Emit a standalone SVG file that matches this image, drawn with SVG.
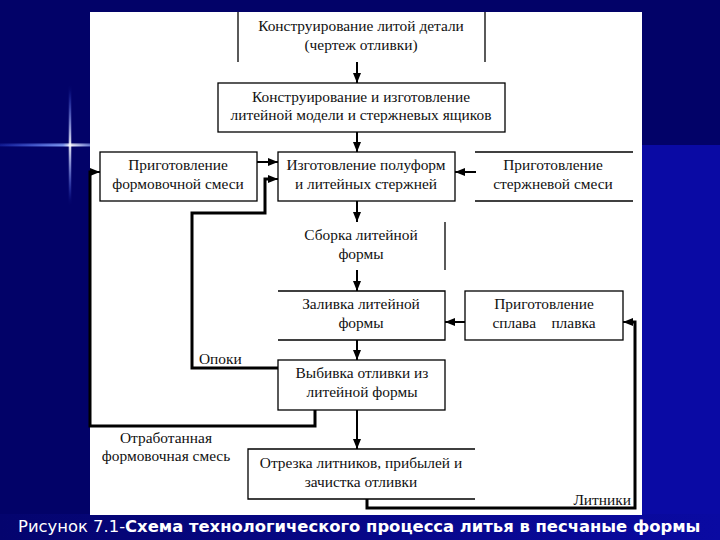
<svg xmlns="http://www.w3.org/2000/svg" width="720" height="540" viewBox="0 0 720 540">
<defs>
<style>
.box{fill:none;stroke:#000;stroke-width:1.3}
.t{font-family:"Liberation Serif","Times New Roman",serif;font-size:15.4px;fill:#111;text-anchor:middle}
.c{fill:none;stroke:#000;stroke-width:2}
.ct{fill:none;stroke:#000;stroke-width:3}
.cap{font-family:"DejaVu Sans",Verdana,sans-serif;font-size:16.4px;fill:#fff}
</style>
<marker id="ah" markerUnits="userSpaceOnUse" markerWidth="10" markerHeight="10" viewBox="0 0 10 10" refX="10" refY="5" orient="auto">
<path d="M0,1 L10,5 L0,9 Z" fill="#000"/>
</marker>
<linearGradient id="bot" x1="0" y1="0" x2="1" y2="0">
<stop offset="0" stop-color="#04046e"/>
<stop offset="1" stop-color="#0a0aa2"/>
</linearGradient>
<linearGradient id="hl" x1="0" y1="0" x2="1" y2="0">
<stop offset="0" stop-color="#3a5cff" stop-opacity="0.2"/>
<stop offset="0.7" stop-color="#8aa8ff" stop-opacity="0.9"/>
<stop offset="0.78" stop-color="#ffffff"/>
<stop offset="1" stop-color="#9ab0ff" stop-opacity="0.6"/>
</linearGradient>
<linearGradient id="vl" x1="0" y1="0" x2="0" y2="1">
<stop offset="0" stop-color="#3a5cff" stop-opacity="0"/>
<stop offset="0.5" stop-color="#ffffff"/>
<stop offset="1" stop-color="#3a5cff" stop-opacity="0"/>
</linearGradient>
</defs>
<rect width="720" height="540" fill="#020268"/>
<rect x="642" y="145" width="78" height="395" fill="#0a0aa4"/>
<rect x="0" y="514" width="720" height="26" fill="url(#bot)"/>
<rect x="0" y="143" width="90" height="4" fill="url(#hl)" opacity="0.5"/>
<rect x="0" y="144.3" width="90" height="1.6" fill="url(#hl)"/>
<rect x="68.5" y="85" width="3" height="120" fill="url(#vl)" opacity="0.5"/>
<rect x="69.3" y="90" width="1.5" height="110" fill="url(#vl)"/>
<rect x="90" y="12" width="552" height="503" fill="#fff"/>

<g id="connectors">
<line class="c" x1="357" y1="62" x2="357" y2="83" marker-end="url(#ah)"/>
<line class="c" x1="357" y1="132" x2="357" y2="152" marker-end="url(#ah)"/>
<line class="c" x1="257" y1="162" x2="278" y2="162" marker-end="url(#ah)"/>
<line class="c" x1="476" y1="172" x2="455" y2="172" marker-end="url(#ah)"/>
<line class="c" x1="357" y1="201" x2="357" y2="222" marker-end="url(#ah)"/>
<line class="c" x1="357" y1="270" x2="357" y2="291" marker-end="url(#ah)"/>
<line class="c" x1="465" y1="322" x2="445" y2="322" marker-end="url(#ah)"/>
<line class="c" x1="357" y1="340" x2="357" y2="360" marker-end="url(#ah)"/>
<line class="c" x1="357" y1="410" x2="357" y2="449" marker-end="url(#ah)"/>
<polyline class="ct" points="278,368 192,368 192,213 265,213 265,179 270,179"/>
<line class="c" x1="268" y1="179" x2="278" y2="179" marker-end="url(#ah)"/>
<polyline class="ct" points="315,410 315,426 90,426 90,172 93,172"/>
<line class="c" x1="92" y1="172" x2="100" y2="172" marker-end="url(#ah)"/>
<polyline class="ct" points="367,499 367,508 635,508 635,322 630,322"/>
<line class="c" x1="632" y1="322" x2="623" y2="322" marker-end="url(#ah)"/>
<text class="t" x="199" y="364" style="text-anchor:start">Опоки</text>
<text class="t" x="166" y="443">Отработанная</text>
<text class="t" x="166" y="461">формовочная смесь</text>
<text class="t" x="631" y="505" style="text-anchor:end">Литники</text>
</g>

<g id="n1">
<line class="box" x1="238" y1="12" x2="238" y2="62"/>
<line class="box" x1="485" y1="12" x2="485" y2="62"/>
<text class="t" x="361" y="31">Конструирование литой детали</text>
<text class="t" x="361" y="50">(чертеж отливки)</text>
</g>
<g id="n2">
<rect class="box" x="218" y="83" width="287" height="49"/>
<text class="t" x="361" y="102">Конструирование и изготовление</text>
<text class="t" x="361" y="120">литейной модели и стержневых ящиков</text>
</g>
<g id="n3">
<rect class="box" x="278" y="152" width="177" height="49"/>
<text class="t" x="366" y="170">Изготовление полуформ</text>
<text class="t" x="366" y="189">и литейных стержней</text>
</g>
<g id="n4">
<rect class="box" x="100" y="152" width="157" height="49"/>
<text class="t" x="178" y="170">Приготовление</text>
<text class="t" x="178" y="189">формовочной смеси</text>
</g>
<g id="n5">
<line class="box" x1="475" y1="152" x2="633" y2="152"/>
<line class="box" x1="475" y1="201" x2="633" y2="201"/>
<text class="t" x="553" y="170">Приготовление</text>
<text class="t" x="553" y="189">стержневой смеси</text>
</g>
<g id="n6">
<line class="box" x1="445" y1="222" x2="445" y2="270"/>
<text class="t" x="361" y="240">Сборка литейной</text>
<text class="t" x="361" y="259">формы</text>
</g>
<g id="n7">
<polyline class="box" points="278,291 445,291 445,340 278,340"/>
<text class="t" x="361" y="309">Заливка литейной</text>
<text class="t" x="361" y="328">формы</text>
</g>
<g id="n8">
<rect class="box" x="465" y="291" width="158" height="49"/>
<text class="t" x="544" y="309">Приготовление</text>
<text class="t" x="544" y="328" xml:space="preserve">сплава    плавка</text>
</g>
<g id="n9">
<rect class="box" x="278" y="360" width="167" height="50"/>
<text class="t" x="362" y="378">Выбивка отливки из</text>
<text class="t" x="362" y="397">литейной формы</text>
</g>
<g id="n10">
<polyline class="box" points="475,449 248,449 248,499 475,499"/>
<text class="t" x="361" y="468">Отрезка литников, прибылей и</text>
<text class="t" x="361" y="487">зачистка отливки</text>
</g>

<text class="cap" x="18" y="532">Рисунок 7.1-<tspan font-weight="bold">Схема технологического процесса литья в песчаные формы</tspan></text>
</svg>
